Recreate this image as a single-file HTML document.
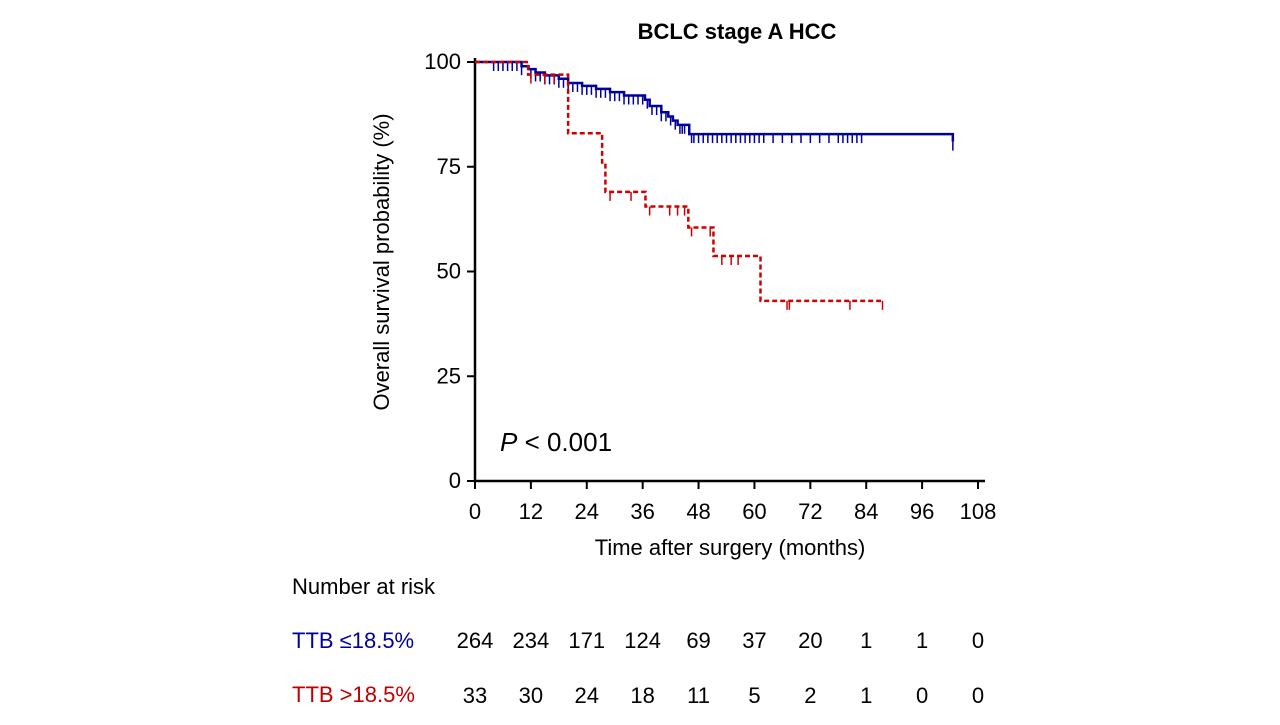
<!DOCTYPE html>
<html><head><meta charset="utf-8"><style>
body{margin:0;background:#fff;width:1280px;height:720px;overflow:hidden;font-family:"Liberation Sans",Arial,sans-serif}
svg text{font-family:"Liberation Sans",Arial,sans-serif}
</style></head><body>
<svg width="1280" height="720">
<g id="axes"></g><g id="curves"></g>
</svg>
<script>
const xTicks=[0,12,24,36,48,60,72,84,96,108];
const yTicks=[0,25,50,75,100];
const blueT=[0,10,11.5,13,15,18,20,23,26,29,32,36.5,37.5,40,41.5,42.5,43.5,46,102.6];
const blueS=[100,99,98.3,97.5,96.8,96,95,94.3,93.6,92.8,92,91,89.5,88,87,86,85,82.8,81];
const blueCens=[4,5,6,7,8,9,10,12,13,14,15,16,17,18,19,20,21,22,23,24,25,26,27,28,29,30,31,32,33,34,35,36,37,38,39,40,41,42,43,44,44.5,45,46.5,47,48,49,50,51,52,53,54,55,56,57,58,59,60,61,62,64,66,68,70,72,74,76,78,79,80,81,82,83,102.6];
const redT=[0,11.4,20,27.3,28,36.6,45.8,51.2,61.3,87.5];
const redS=[100,97,83,76,69,65.5,60.5,53.7,43,43];
const redCens=[12,15,17,29,33.5,37.5,41.8,43.5,45,46.5,50.5,53,55,56.5,67,67.5,80.5,87.5];
const riskBlue=[264,234,171,124,69,37,20,1,1,0];
const riskRed=[33,30,24,18,11,5,2,1,0,0];
const NS='http://www.w3.org/2000/svg';
const X=m=>475+m*(978-475)/108, Y=s=>481-s*(481-62)/100;
function el(p,tag,a,txt){const e=document.createElementNS(NS,tag);for(const k in a)e.setAttribute(k,a[k]);if(txt!==undefined)e.textContent=txt;p.appendChild(e);return e;}
const svg=document.querySelector('svg');const ax=document.getElementById('axes'),cv=document.getElementById('curves');
let t=el(svg,'text',{x:737,y:39,'font-size':22,'font-weight':'bold','text-anchor':'middle'},'BCLC stage A HCC');


let a=el(ax,'path',{d:`M475 ${Y(100)-4}V481H985`,stroke:'#000','stroke-width':2.5,fill:'none'});


xTicks.forEach(v=>{el(ax,'line',{x1:X(v),x2:X(v),y1:481,y2:489,stroke:'#000','stroke-width':2});
 const l=el(ax,'text',{x:X(v),y:519,'font-size':22,'text-anchor':'middle'},v);
 
 });
yTicks.forEach(v=>{el(ax,'line',{x1:467,x2:475,y1:Y(v),y2:Y(v),stroke:'#000','stroke-width':2});
 const l=el(ax,'text',{x:461,y:Y(v)+7,'font-size':22,'text-anchor':'end'},v);
 
 });
t=el(svg,'text',{x:730,y:555,'font-size':22,'text-anchor':'middle'},'Time after surgery (months)');


t=el(svg,'text',{x:0,y:0,'font-size':22,'text-anchor':'middle',transform:'translate(389,262) rotate(-90)'},'Overall survival probability (%)');


t=el(svg,'text',{x:500,y:451,'font-size':26});t.innerHTML='<tspan font-style="italic">P</tspan> &lt; 0.001';


function surv(T,S,m){let s=S[0];for(let i=0;i<T.length;i++)if(T[i]<=m)s=S[i];return s;}
function curve(T,S,C,color,dash,name){
 let d=`M${X(T[0])} ${Y(S[0])}`;
 for(let i=1;i<T.length;i++){d+=`H${X(T[i])}V${Y(S[i])}`;}
 const p=el(cv,'path',{d,stroke:color,'stroke-width':2.5,fill:'none','stroke-dasharray':dash});
 
 
 C.forEach(m=>{const y=Y(surv(T,S,m));const c=el(cv,'line',{x1:X(m),x2:X(m),y1:y,y2:y+9,stroke:color,'stroke-width':1.5});
  
  });
}
curve(blueT,blueS,blueCens,'#00009b','none','curve-ttb-low');
curve(redT,redS,redCens,'#d00000','5 3','curve-ttb-high');
t=el(svg,'text',{x:292,y:594,'font-size':22},'Number at risk');


t=el(svg,'text',{x:292,y:648,'font-size':22,fill:'#00009b'},'TTB ≤18.5%');


t=el(svg,'text',{x:292,y:702,'font-size':22,fill:'#c00000'},'TTB >18.5%');


xTicks.forEach((v,i)=>{
 let a=el(svg,'text',{x:X(v),y:648,'font-size':22,'text-anchor':'middle'},riskBlue[i]);
 
 
 let b=el(svg,'text',{x:X(v),y:703,'font-size':22,'text-anchor':'middle'},riskRed[i]);
 
 
});
</script>
</body></html>
